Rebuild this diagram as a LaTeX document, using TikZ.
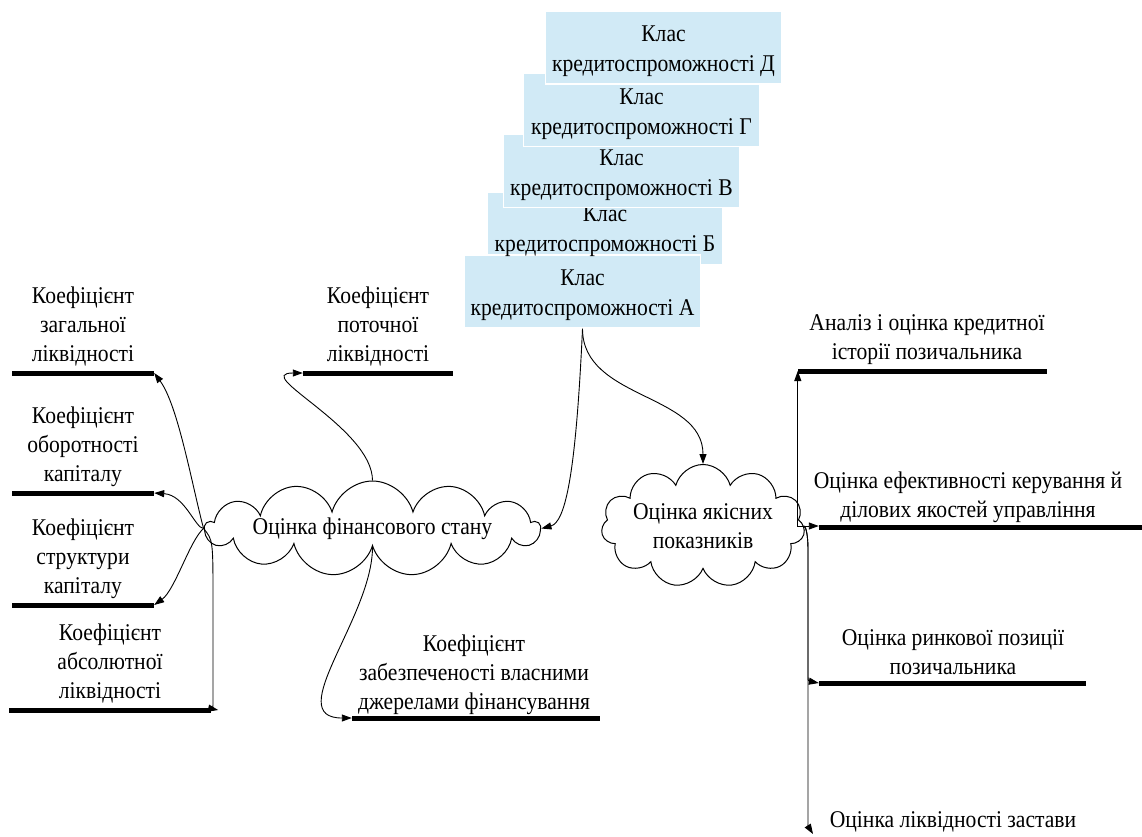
\documentclass[tikz,border=0pt]{standalone}
\usepackage{fontspec}
\setmainfont{Liberation Serif}
\usetikzlibrary{shapes.symbols,arrows.meta}
\definecolor{boxblue}{RGB}{209,234,246}
\newcommand{\nar}[1]{\scalebox{0.9}[1]{#1}}
\begin{document}
\begin{tikzpicture}[x=1pt,y=-1pt,
  every node/.style={font=\fontsize{24}{29}\selectfont, align=center, inner sep=0pt},
  kbox/.style={rectangle, fill=boxblue, draw=white, line width=1.5pt, minimum width=236pt, minimum height=73pt},
  ktext/.style={font=\fontsize{24}{30}\selectfont},
  bar/.style={rectangle, fill=black, minimum height=5pt, inner sep=0pt},
  conn/.style={line width=0.9pt, -{Triangle[length=10pt,width=7pt]}},
  wolk/.style={cloud, draw, line width=1pt, cloud ignores aspect, fill=white, inner sep=0pt}
]
\useasboundingbox (0,0) rectangle (1142,836);

% stacked class boxes
\node[kbox] (kB) at (605,228.5) {};
\node[kbox] (kA) at (582.5,291.5) {};
\node[ktext] at ([yshift=-3pt]kB.center) {\nar{Клас}\\\nar{кредитоспроможності Б}};
\node[ktext] at ([yshift=-4pt]kA.center) {\nar{Клас}\\\nar{кредитоспроможності А}};
\node[kbox] (kV) at (621.5,171) {};
\node[ktext] at ([yshift=-4pt]kV.center) {\nar{Клас}\\\nar{кредитоспроможності В}};
\node[kbox] (kG) at (641.5,110) {};
\node[ktext] at ([yshift=-4pt]kG.center) {\nar{Клас}\\\nar{кредитоспроможності Г}};
\node[kbox] (kD) at (663.5,47.5) {};
\node[ktext] at ([yshift=-4pt]kD.center) {\nar{Клас}\\\nar{кредитоспроможності Д}};

% clouds
\node[wolk, cloud puffs=13, minimum width=300pt, minimum height=95pt] (fin) at (372.5,528.5) {\nar{Оцінка фінансового стану}};
\node[wolk, cloud puffs=11, minimum width=184pt, minimum height=123pt] (yak) at (703,526) {\nar{Оцінка якісних}\\\nar{показників}};

% left bars and labels
\node[bar, minimum width=142pt] (b1) at (83,373) {};
\node (t1) at (83,326) {\nar{Коефіцієнт}\\\nar{загальної}\\\nar{ліквідності}};
\node[bar, minimum width=142pt] (b2) at (83,493) {};
\node (t2) at (83,447) {\nar{Коефіцієнт}\\\nar{оборотності}\\\nar{капіталу}};
\node[bar, minimum width=142pt] (b3) at (83,605) {};
\node (t3) at (83,559) {\nar{Коефіцієнт}\\\nar{структури}\\\nar{капіталу}};
\node[bar, minimum width=202pt] (b4) at (110,710) {};
\node (t4) at (110,663) {\nar{Коефіцієнт}\\\nar{абсолютної}\\\nar{ліквідності}};
\node[bar, minimum width=150pt] (b5) at (378,373) {};
\node (t5) at (378,326) {\nar{Коефіцієнт}\\\nar{поточної}\\\nar{ліквідності}};
\node[bar, minimum width=248pt] (b6) at (476,718) {};
\node (t6) at (474,675) {\nar{Коефіцієнт}\\\nar{забезпеченості власними}\\\nar{джерелами фінансування}};

% right bars and labels
\node[bar, minimum width=249pt] (r1) at (922.5,371) {};
\node (rt1) at (927,340) {\nar{Аналіз і оцінка кредитної}\\\nar{історії позичальника}};
\node[bar, minimum width=323pt] (r2) at (980.5,527) {};
\node (rt2) at (968,497) {\nar{Оцінка ефективності керування й}\\\nar{ділових якостей управління}};
\node[bar, minimum width=267pt] (r3) at (952.5,683) {};
\node (rt3) at (953,652) {\nar{Оцінка ринкової позиції}\\\nar{позичальника}};
\node (rt4) at (953,822) {\nar{Оцінка ліквідності застави}};
\coordinate (z4) at (813,834);

% connectors from class A
\draw[conn] (kA.south) .. controls (576,470) and (566,522) .. (fin.east);
\draw[conn] (kA.south) to[out=-90,in=90] (yak.north);

% connectors from financial cloud
\draw[conn] (fin.west) .. controls (192,485) and (178,405) .. (b1.east);
\draw[conn] (fin.west) .. controls (195,528) and (185,495) .. (b2.east);
\draw[conn] (fin.west) .. controls (190,540) and (175,590) .. (b3.east);
\draw[conn] (fin.west) .. controls (213,540) .. (213,600) -- (213,702) .. controls (213,709) .. ([xshift=7pt]b4.east);
\draw[conn] (fin.north) to[out=90,in=180,looseness=1.05] (b5.west);
\draw[conn] (fin.south) to[out=-90,in=180,looseness=1.05] (b6.west);

% connectors from quality cloud
\draw[conn] (yak.east) -- (r1.west |- yak.east) -- (r1.west);
\draw[conn] (yak.east) -- (r2.west |- yak.east);
\draw[conn] (yak.east) .. controls (806,527) and (808,535) .. (808,550) -- (808,672) .. controls (808,681) .. (r3.west);
\draw[conn] (yak.east) .. controls (806,527) and (808,535) .. (808,550) -- (808,815) .. controls (808,826) .. (z4);
\end{tikzpicture}
\end{document}
